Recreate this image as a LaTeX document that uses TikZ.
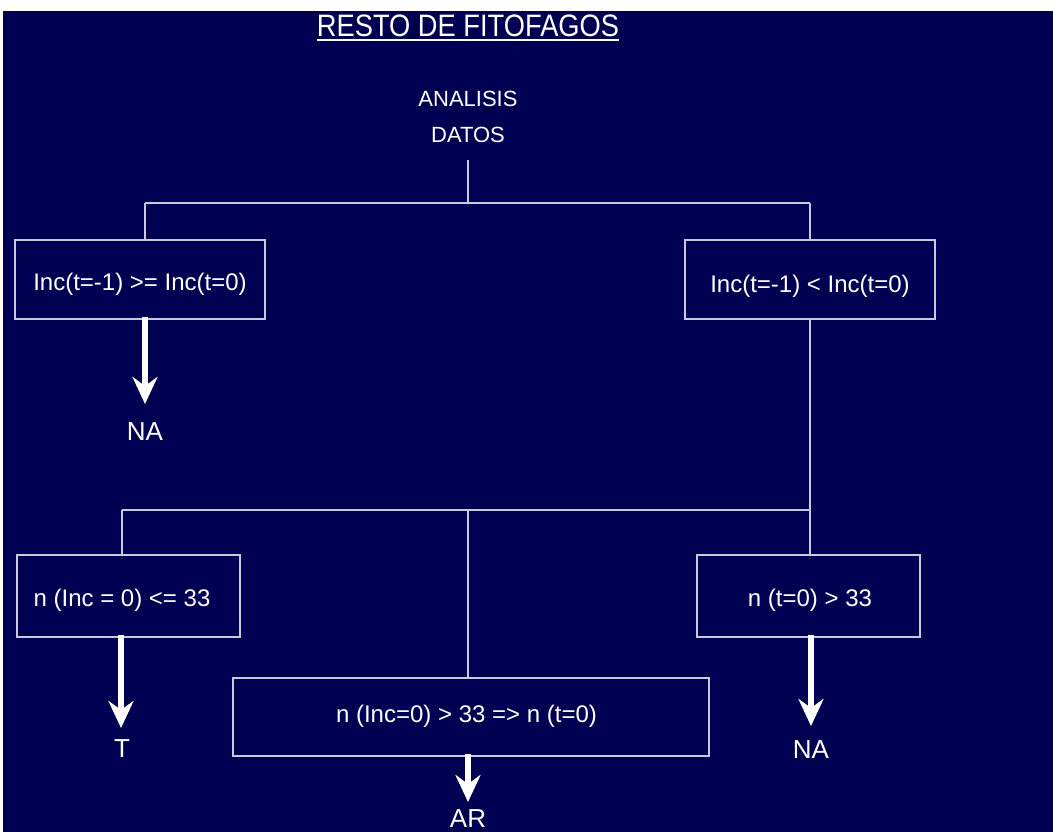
\documentclass[tikz,border=0pt]{standalone}
\usepackage{fontspec}
\setmainfont{Liberation Sans}
\newfontfamily\titlefont{Liberation Sans}[FakeStretch=0.88]
\usetikzlibrary{arrows.meta}
\definecolor{navy}{RGB}{0,0,82}
\definecolor{linec}{RGB}{200,200,225}
\begin{document}
\begin{tikzpicture}[x=1pt,y=-1pt,
  box/.style={draw=linec,line width=1.3pt,inner sep=0pt},
  txt/.style={text=white,font=\fontsize{24}{28}\selectfont,inner sep=0pt,anchor=base},
  head/.style={text=white,font=\fontsize{22}{26}\selectfont,inner sep=0pt,anchor=base},
  outc/.style={text=white,font=\fontsize{26}{30}\selectfont,inner sep=0pt,anchor=base},
  conn/.style={draw=linec,line width=1.3pt},
  bigarrow/.style={draw=white,line width=6pt,-{Stealth[length=27pt,width=25pt,inset=9pt]}}]
\useasboundingbox (0,0) rectangle (1053,832);
\fill[white] (0,0) rectangle (1053,832);
\fill[navy] (3,11) rectangle (1053,832);

% title
\node[text=white,font=\titlefont\fontsize{31}{36}\selectfont,inner sep=0pt,anchor=base] (title) at (468,37) {RESTO DE FITOFAGOS};
\draw[white,line width=1.5pt] ([yshift=-3pt]title.base west) -- ([yshift=-3pt]title.base east);

\node[head] (an) at (468,107) {ANALISIS};
\node[head] (da) at (468,143) {DATOS};

% boxes
\node[box,minimum width=250pt,minimum height=79pt] (b1) at (140,279.5) {};
\node[box,minimum width=250pt,minimum height=79pt] (b2) at (810,279.5) {};
\node[box,minimum width=223pt,minimum height=82pt] (b3) at (128.5,596) {};
\node[box,minimum width=223pt,minimum height=82pt] (b4) at (808.5,596) {};
\node[box,minimum width=476pt,minimum height=78pt] (b5) at (471,717) {};

\node[txt] (t1) at (140,290) {Inc(t=-1) >= Inc(t=0)};
\node[txt] (t2) at (810,292) {Inc(t=-1) < Inc(t=0)};
\node[txt] (t3) at (122,606.5) {n (Inc = 0) <= 33};
\node[txt] (t4) at (810,606) {n (t=0) > 33};
\node[txt] (t5) at (466.5,722.5) {n (Inc=0) > 33 => n (t=0)};

% outcomes
\node[outc] (o1) at (145,440) {NA};
\node[outc] (o3) at (122,757) {T};
\node[outc] (o4) at (811,758) {NA};
\node[outc] (o5) at (468,827) {AR};

% connectors
\coordinate (d0) at (468,160);
\coordinate (j1) at (468,203);
\coordinate (jL) at (145,203);
\coordinate (jR) at (810,203);
\draw[conn] (d0) -- (j1);
\draw[conn] (jL) -- (jR);
\draw[conn] (jL) -- (jL |- b1.north);
\draw[conn] (jR) -- (jR |- b2.north);
\coordinate (j2) at (810,510);
\coordinate (j2L) at (122,510);
\coordinate (j2M) at (468,510);
\draw[conn] (jR |- b2.south) -- (j2);
\draw[conn] (j2L) -- (j2);
\draw[conn] (j2L) -- (j2L |- b3.north);
\draw[conn] (j2M) -- (j2M |- b5.north);
\draw[conn] (j2) -- (j2 |- b4.north);

% arrows
\coordinate (a1) at (145,404);
\coordinate (a3) at (121,728);
\coordinate (a4) at (811,726);
\coordinate (a5) at (468,802);
\draw[bigarrow] ([yshift=3pt]b1.south -| a1) -- (a1);
\draw[bigarrow] ([yshift=3pt]b3.south -| a3) -- (a3);
\draw[bigarrow] ([yshift=3pt]b4.south -| a4) -- (a4);
\draw[bigarrow] ([yshift=3pt]b5.south -| a5) -- (a5);
\end{tikzpicture}
\end{document}
